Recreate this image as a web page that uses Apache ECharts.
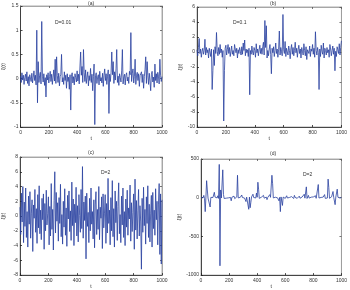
<!DOCTYPE html>
<html><head><meta charset="utf-8">
<script src="https://cdn.jsdelivr.net/npm/echarts@6/dist/echarts.min.js"></script>
<style>html,body{margin:0;padding:0;background:#fff}#c{width:350px;height:290px}</style>
</head><body><div id="c"></div>
<script>
var tStep = 5;
var panelTitles = ['(a)', '(b)', '(c)', '(d)'];
var noiseLabels = ['D=0.01', 'D=0.1', 'D=2', 'D=2'];
var xTicks = [0, 200, 400, 600, 800, 1000];
var yTicksA = [-1, -0.5, 0, 0.5, 1, 1.5];
var yTicksB = [-10, -8, -6, -4, -2, 0, 2, 4, 6];
var yTicksC = [-8, -6, -4, -2, 0, 2, 4, 6, 8];
var yTicksD = [-1000, -500, 0, 500];

var seriesA = [0.05,-0.08,0.12,-0.03,0.07,-0.12,0.02,0.09,-0.05,0.14,
-0.1,0.04,-0.15,0.08,0.01,-0.06,0.11,-0.09,0.03,0.16,
-0.04,0.07,-0.13,1.0,-0.5,0.35,-0.08,0.06,0.13,-0.11,
1.18,0.05,-0.07,0.1,-0.14,0.02,-0.38,0.08,-0.03,0.12,
-0.09,0.04,0.15,-0.06,0.09,-0.12,0.03,0.18,-0.05,0.4,
-0.1,0.45,0.06,-0.08,0.11,-0.15,0.04,0.09,0.5,-0.07,
0.02,-0.12,0.14,-0.04,0.07,-0.2,0.1,-0.06,0.03,-0.22,
0.08,-0.65,0.05,0.12,-0.09,0.04,-0.13,0.1,0.02,-0.07,
0.16,-0.05,0.09,-0.11,0.24,0.55,0.07,0.25,-0.08,0.6,
0.12,-0.06,0.18,-0.1,0.03,0.14,-0.15,0.06,-0.04,0.21,
-0.08,0.09,-0.25,0.04,0.3,-0.95,0.06,0.12,-0.1,0.03,
0.08,-0.13,0.15,-0.05,0.02,-0.09,0.11,-0.16,0.07,0.2,
-0.04,0.1,-0.12,0.05,0.18,-0.72,0.09,-0.06,0.13,0.55,
0.08,0.35,-0.1,0.14,-0.03,0.2,0.6,-0.08,0.05,-0.14,
0.1,0.02,-0.07,0.16,0.6,-0.11,0.04,0.09,-0.13,0.07,
0.12,-0.05,0.03,-0.1,0.15,0.08,0.95,-0.06,0.11,0.2,
-0.09,0.05,0.4,-0.12,0.07,0.13,-0.04,0.1,-0.16,0.06,
0.02,0.14,-0.08,0.09,-0.2,0.04,0.18,0.45,-0.1,0.35,
0.06,-0.12,0.11,-0.05,-0.25,0.08,0.15,-0.07,0.03,-0.18,
0.3,-0.04,0.1,-0.09,0.13,0.05,-0.11,0.4,0.07,-0.06,
0.04];

var seriesB = [0.3,-0.5,0.6,1.8,-0.2,0.4,-0.7,0.1,0.5,-0.3,
0.2,1.7,-0.4,0.6,-0.1,0.3,-0.8,0.5,0.0,-0.6,
0.4,-5.0,-2.5,0.3,-1.8,0.7,-0.2,2.6,0.1,-0.5,
0.6,-0.3,1.0,-0.1,0.4,-0.7,0.2,-9.2,-2.5,0.5,
0.9,-0.4,0.3,1.0,-0.2,0.6,-0.6,0.1,0.8,-0.3,
0.2,-0.5,1.0,0.4,-0.1,0.5,-0.8,0.3,-0.2,0.6,
0.1,-0.4,0.7,-0.3,1.2,0.2,1.6,-0.5,0.4,-0.1,
0.3,-0.6,0.5,-5.7,0.2,-0.3,0.8,0.0,-0.4,0.6,
0.2,-0.7,1.1,-0.1,0.4,-0.5,0.3,0.9,-0.2,0.5,
-0.3,0.7,1.3,-0.4,4.2,0.6,3.5,-0.8,0.2,-0.5,
0.4,1.0,-0.3,-2.9,0.5,-0.1,0.7,-0.6,0.2,1.2,
-0.2,0.4,-0.7,0.3,2.8,-0.4,0.6,0.1,-0.5,5.0,
0.3,-0.2,1.4,-0.6,0.5,0.0,-0.4,0.8,0.2,-0.9,
0.4,1.0,-0.3,0.6,-0.5,0.2,1.3,-0.1,0.5,-0.7,
0.3,0.9,-0.2,0.4,-0.8,0.6,0.1,-0.4,1.1,0.2,
-0.5,0.7,-1.0,0.3,0.5,-0.2,0.8,-0.6,0.4,0.1,
1.0,-0.3,0.5,-0.7,2.7,0.2,-0.4,0.6,-0.1,-5.0,
0.4,-0.6,0.9,0.1,-0.3,1.2,-0.8,0.5,0.2,-0.4,
0.6,-0.1,0.3,-0.7,1.0,0.4,-0.5,0.2,0.8,-0.3,
0.5,-2.5,0.1,-0.6,0.7,0.3,-0.2,1.1,-0.4,0.6,
1.5];

var seriesC = [1.2,-2.5,3.1,-0.8,4.0,-3.6,1.9,-1.4,3.8,-2.9,
0.6,-4.2,2.7,-1.1,3.3,-3.0,0.4,2.2,-4.8,1.5,
-0.3,3.6,-2.2,1.0,-3.7,2.9,-1.6,4.1,-2.4,0.8,
-3.2,2.4,-0.5,3.0,-4.5,1.7,-2.0,3.5,-1.2,0.3,
2.6,-3.9,1.3,-2.7,4.4,-1.8,0.9,-4.6,2.1,6.0,
-2.3,3.2,-0.7,1.8,-3.4,2.5,-1.0,4.3,-2.8,0.2,
-3.8,2.0,-1.5,3.7,-2.6,1.1,-4.1,2.8,-0.4,3.4,
-2.1,0.7,-3.3,4.6,-1.3,2.3,-4.0,1.6,-0.9,3.9,
-2.7,1.4,-3.5,2.9,0.1,-2.2,3.6,-1.7,6.7,-3.0,
1.9,-0.6,2.7,-5.8,3.1,-1.4,0.5,-3.6,2.4,-2.0,
3.8,-1.1,0.6,-3.1,2.2,-4.3,1.5,3.3,-2.5,0.9,
-1.8,4.0,-3.2,1.2,-0.3,2.6,-4.4,3.0,-1.6,0.4,
2.9,-3.7,1.7,-2.3,5.1,-1.0,0.8,-3.9,2.5,-2.0,
4.8,-2.8,1.0,-4.2,3.4,-0.9,2.0,-3.3,1.3,4.5,
-2.4,0.2,-3.6,2.7,-1.2,3.8,-2.9,0.6,-4.0,2.3,
-1.5,3.5,-2.6,1.1,-0.4,4.2,-3.4,1.8,-2.1,0.5,
3.0,-4.5,5.0,-1.9,2.1,-3.1,0.7,3.6,-2.7,1.4,
-0.8,-7.2,2.4,-2.2,3.9,-1.3,0.9,-3.8,2.6,-1.0,
4.1,-2.9,1.6,-3.5,0.4,2.8,-4.2,3.2,-1.7,0.8,
-2.6,3.7,-0.5,2.0,-3.9,1.5,4.4,-5.2,3.0,-6.5,
2.2];

var seriesD = [5,-8,12,-3,30,-10,-180,6,220,100,
-5,9,-12,-120,4,15,-7,2,-20,70,
8,-6,11,-3,25,-9,430,-880,100,-4,
7,360,40,-10,5,12,-6,-30,9,-2,
14,-8,3,-40,6,10,-5,20,-12,4,
-7,11,290,-3,8,-15,5,-9,35,2,
-6,13,-4,9,-50,7,-11,4,-150,8,
-130,-60,10,-5,45,3,-8,12,-4,60,
6,200,110,-9,14,-3,7,-12,5,30,
-6,10,-4,8,-25,3,12,-7,40,5,
-10,290,180,-3,9,-14,6,-5,11,-2,
7,-40,4,-180,10,-6,-100,8,-3,12,
-9,5,25,-4,8,-11,3,9,-6,14,
-2,7,-10,30,4,-5,11,-8,6,-3,
20,-7,5,-12,9,3,-4,45,-6,8,
140,-10,6,30,-5,12,-3,7,-9,4,
10,-6,3,25,-8,5,12,170,-4,9,
-7,3,14,-5,8,-2,40,-9,6,11,
-4,240,130,-8,7,-3,12,-6,80,5,
-10,-90,9,-4,110,6,-7,3,-5,8,
4];

var allSeries = [seriesA, seriesB, seriesC, seriesD];
var yTickSets = [yTicksA, yTicksB, yTicksC, yTicksD];

var grids = [
  {left: 18, top: 6, width: 144, height: 121},
  {left: 197, top: 7, width: 148, height: 120},
  {left: 18, top: 157, width: 144, height: 120},
  {left: 201, top: 159, width: 143, height: 119}
];
var titlePos = [[88, 1], [270, 1], [88, 150], [270, 151]];
var notePos = [[55, 20], [233, 20], [101, 170], [303, 172]];
var xNameGap = [7, 7, 7, 7];

var fontFam = 'Liberation Sans, Arial, sans-serif';
var lab = {fontSize: 5, color: '#333', fontFamily: fontFam};
function fmt(v) { return String(v); }

var option = {
  animation: false,
  backgroundColor: '#fff',
  grid: grids.map(function (g) {
    return Object.assign({show: true, borderColor: '#999', borderWidth: 0.8, backgroundColor: '#fff', containLabel: false}, g);
  }),
  title: [],
  xAxis: [],
  yAxis: [],
  series: []
};

for (var k = 0; k < 4; k++) {
  var yt = yTickSets[k];
  var yMin = yt[0], yMax = yt[yt.length - 1], yInt = yt[1] - yt[0];
  option.xAxis.push({
    type: 'value', gridIndex: k, min: xTicks[0], max: xTicks[xTicks.length - 1], interval: xTicks[1] - xTicks[0],
    position: 'bottom',
    name: 't', nameLocation: 'middle', nameGap: xNameGap[k],
    nameTextStyle: {fontSize: 5, color: '#333', fontFamily: fontFam},
    axisLine: {show: true, onZero: false, lineStyle: {color: '#222', width: 0.8}},
    axisTick: {show: true, inside: true, length: 2, lineStyle: {color: '#222', width: 0.8}},
    axisLabel: Object.assign({margin: 3, formatter: fmt}, lab),
    splitLine: {show: false}
  });
  option.xAxis.push({
    type: 'value', gridIndex: k, min: xTicks[0], max: xTicks[xTicks.length - 1], interval: xTicks[1] - xTicks[0],
    position: 'top',
    axisLine: {show: true, onZero: false, lineStyle: {color: '#999', width: 0.8}},
    axisTick: {show: true, inside: true, length: 2, lineStyle: {color: '#555', width: 0.8}},
    axisLabel: {show: false},
    splitLine: {show: false}
  });
  option.yAxis.push({
    type: 'value', gridIndex: k, min: yMin, max: yMax, interval: yInt,
    position: 'left',
    name: 'ξ(t)', nameLocation: 'middle', nameGap: 14, nameRotate: 90,
    nameTextStyle: {fontSize: 5, color: '#333', fontFamily: fontFam},
    axisLine: {show: true, onZero: false, lineStyle: {color: '#222', width: 0.8}},
    axisTick: {show: true, inside: true, length: 2, lineStyle: {color: '#222', width: 0.8}},
    axisLabel: Object.assign({margin: 2, formatter: fmt}, lab),
    splitLine: {show: false}
  });
  option.yAxis.push({
    type: 'value', gridIndex: k, min: yMin, max: yMax, interval: yInt,
    position: 'right',
    axisLine: {show: true, onZero: false, lineStyle: {color: '#999', width: 0.8}},
    axisTick: {show: true, inside: true, length: 2, lineStyle: {color: '#555', width: 0.8}},
    axisLabel: {show: false},
    splitLine: {show: false}
  });
  option.series.push({
    type: 'line', xAxisIndex: 2 * k, yAxisIndex: 2 * k, showSymbol: false, symbol: 'none',
    sampling: null, silent: true,
    lineStyle: {color: '#2840a0', width: 0.8},
    data: allSeries[k].map(function (v, i) { return [i * tStep, v]; })
  });
  option.title.push({
    text: panelTitles[k], left: titlePos[k][0], top: titlePos[k][1], padding: 0,
    textStyle: {fontSize: 5, fontWeight: 'normal', color: '#333', fontFamily: fontFam}
  });
  option.title.push({
    text: noiseLabels[k], left: notePos[k][0], top: notePos[k][1], padding: 0,
    textStyle: {fontSize: 5, fontWeight: 'normal', color: '#333', fontFamily: fontFam}
  });
}

var chart = echarts.init(document.getElementById('c'), null, {renderer: 'canvas'});
chart.setOption(option);
</script>
</body></html>
